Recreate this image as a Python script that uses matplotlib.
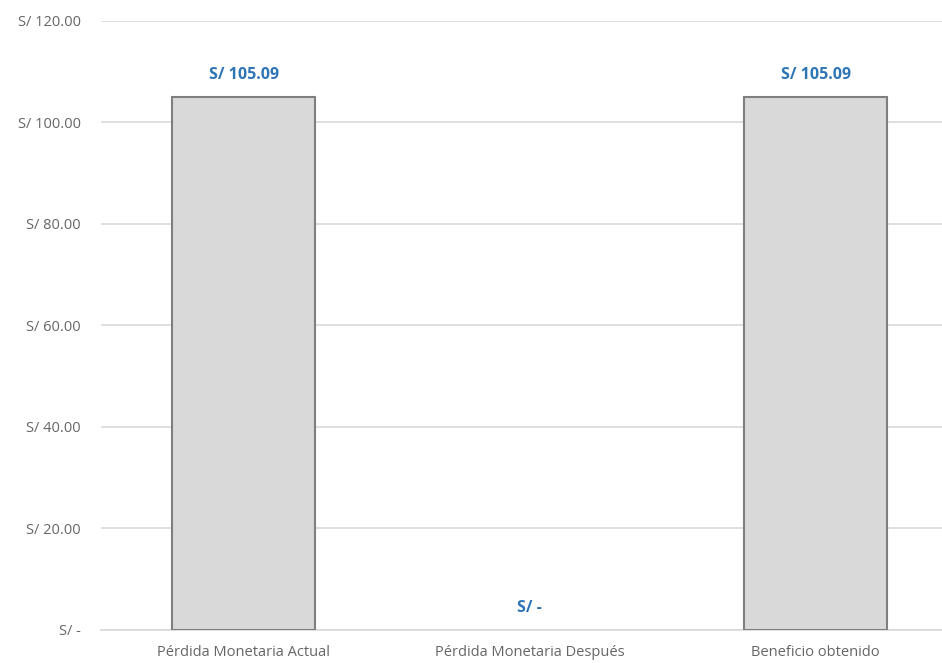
import matplotlib
matplotlib.use('Agg')
import matplotlib.pyplot as plt

# Chart data
categories = ['Pérdida Monetaria Actual', 'Pérdida Monetaria Después', 'Beneficio obtenido']
values = [105.09, 0.0, 105.09]
value_labels = ['S/ 105.09', 'S/ -', 'S/ 105.09']
y_ticks = [0, 20, 40, 60, 80, 100, 120]
y_tick_labels = ['S/ -', 'S/ 20.00', 'S/ 40.00', 'S/ 60.00', 'S/ 80.00', 'S/ 100.00', 'S/ 120.00']

plt.rcParams['font.family'] = ['Open Sans', 'DejaVu Sans']

fig = plt.figure(figsize=(9.42, 6.63), dpi=100)
ax = fig.add_axes([0.1067, 0.0498, 0.911, 0.9186])

x = list(range(len(categories)))
# zero-height bars show no outline
edges = ['#7f7f7f' if v > 0 else 'none' for v in values]
ax.bar(x, values, width=0.5, color='#d9d9d9', edgecolor=edges, linewidth=1.5, zorder=3)

for xi, v, lab in zip(x, values, value_labels):
    ax.annotate(lab, (xi, v), xytext=(0, 10), textcoords='offset points',
                ha='center', va='bottom', color='#2e75b6', fontsize=11.5, fontweight='bold')

ax.set_xlim(-0.5, 2.5)
ax.set_ylim(0, 120)
ax.set_yticks(y_ticks)
ax.set_yticklabels(y_tick_labels)
ax.set_xticks(x)
ax.set_xticklabels(categories)
ax.tick_params(axis='both', length=0, colors='#666666', labelsize=10.5)
ax.tick_params(axis='y', pad=14)
ax.tick_params(axis='x', pad=11)

ax.grid(axis='y', color='#d9d9d9', linewidth=1.2, zorder=0)
for s in ['top', 'right', 'left']:
    ax.spines[s].set_visible(False)
ax.spines['bottom'].set_color('#d9d9d9')
ax.spines['bottom'].set_linewidth(1.2)

fig.savefig('out.png', dpi=100)
